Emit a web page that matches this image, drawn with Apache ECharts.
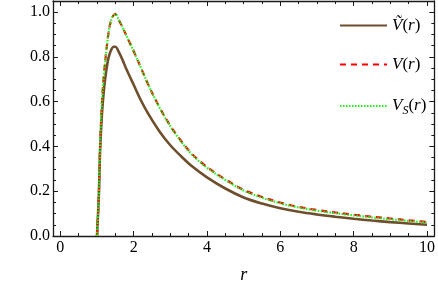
<!DOCTYPE html>
<html>
<head>
<meta charset="utf-8">
<script src="https://cdn.jsdelivr.net/npm/echarts@6/dist/echarts.min.js"></script>
<style>html,body{margin:0;padding:0;background:#fff;}#c{width:438px;height:289px;}</style>
</head>
<body>
<div id="c"></div>
<script>
// ---- data ----
const rValues = [1.00,1.02,1.05,1.08,1.10,1.13,1.16,1.20,1.25,1.30,1.35,1.40,1.45,1.50,1.60,1.70,1.80,1.90,2.00,2.20,2.40,2.70,3.00,3.30,3.60,4.00,4.50,5.00,5.50,6.00,6.50,7.00,7.50,8.00,8.50,9.00,9.50,10.00];
const vTildeValues = [0,0.07,0.18,0.36,0.44,0.53,0.60,0.67,0.735,0.785,0.815,0.835,0.845,0.845,0.82,0.785,0.745,0.71,0.675,0.605,0.545,0.468,0.405,0.355,0.31,0.262,0.212,0.172,0.145,0.124,0.108,0.096,0.086,0.077,0.069,0.062,0.056,0.050];
const vValues = [0,0.07,0.18,0.38,0.47,0.58,0.66,0.74,0.82,0.89,0.94,0.97,0.985,0.99,0.962,0.93,0.895,0.86,0.825,0.75,0.675,0.576,0.492,0.423,0.365,0.308,0.253,0.206,0.174,0.149,0.130,0.116,0.105,0.095,0.086,0.078,0.070,0.063];
const vSValues = [0,0.07,0.18,0.38,0.47,0.58,0.66,0.74,0.82,0.89,0.94,0.97,0.985,0.99,0.962,0.93,0.895,0.86,0.825,0.75,0.675,0.575,0.49,0.42,0.362,0.305,0.25,0.203,0.171,0.146,0.127,0.113,0.102,0.092,0.083,0.075,0.067,0.060];
const seriesNames = ['Ṽ(r)', 'V(r)', 'V_S(r)'];
const xTickLabels = [0,2,4,6,8,10];
const xMinorTicks = [0,0.5,1,1.5,2,2.5,3,3.5,4,4.5,5,5.5,6,6.5,7,7.5,8,8.5,9,9.5,10];
const yTickLabels = [0,0.2,0.4,0.6,0.8,1.0];
const yMinorTicks = [0,0.05,0.1,0.15,0.2,0.25,0.3,0.35,0.4,0.45,0.5,0.55,0.6,0.65,0.7,0.75,0.8,0.85,0.9,0.95,1.0];

const FONT = '"Liberation Serif", "DejaVu Serif", serif';
const frameColor = '#1a1a1a';
const pair = (ys) => rValues.map((r, i) => [r, ys[i]]);

function xAx(pos, major, withLabel) {
  return {
    type: 'value', min: -0.2, max: 10.2, position: pos,
    axisLine: { show: major, onZero: false, lineStyle: { color: frameColor, width: 1.3 } },
    axisTick: { show: true, inside: true, length: major ? 5 : 3, customValues: major ? xTickLabels : xMinorTicks,
      lineStyle: { color: frameColor, width: 1 } },
    axisLabel: withLabel ? { show: true, customValues: xTickLabels, fontFamily: FONT, fontSize: 16, color: '#000', margin: 4 } : { show: false },
    splitLine: { show: false },
    name: withLabel ? 'r' : '', nameLocation: 'middle', nameGap: 30,
    nameTextStyle: { fontFamily: FONT, fontStyle: 'italic', fontSize: 18, color: '#000' }
  };
}
function yAx(pos, major, withLabel) {
  return {
    type: 'value', min: 0, max: 1.049, position: pos,
    axisLine: { show: major, onZero: false, lineStyle: { color: frameColor, width: 1.3 } },
    axisTick: { show: true, inside: true, length: major ? 5 : 3, customValues: major ? yTickLabels : yMinorTicks,
      lineStyle: { color: frameColor, width: 1 } },
    axisLabel: withLabel ? { show: true, customValues: yTickLabels, fontFamily: FONT, fontSize: 16, color: '#000', margin: 3,
      formatter: v => v.toFixed(1) } : { show: false },
    splitLine: { show: false }
  };
}

const chart = echarts.init(document.getElementById('c'), null, { renderer: 'canvas' });
chart.setOption({
  animation: false,
  backgroundColor: '#fff',
  textStyle: { fontFamily: FONT },
  grid: { left: 53, right: 1, top: 1, bottom: 52, containLabel: false },
  xAxis: [xAx('bottom', true, true), xAx('bottom', false, false), xAx('top', true, false), xAx('top', false, false)],
  yAxis: [yAx('left', true, true), yAx('left', false, false), yAx('right', true, false), yAx('right', false, false)],
  legend: {
    orient: 'vertical', left: 334, top: 12, itemWidth: 47, itemHeight: 14, itemGap: 22,
    data: seriesNames,
    itemStyle: { opacity: 0, borderWidth: 0 },
    formatter: function (name) {
      if (name === seriesNames[0]) return '{i|Ṽ}{n|(}{i|r}{n|)}';
      if (name === seriesNames[1]) return '{i|V}{n|(}{i|r}{n|)}';
      return '{i|V}{s|S}{n|(}{i|r}{n|)}';
    },
    textStyle: {
      color: '#000', fontFamily: FONT,
      rich: {
        i: { fontFamily: FONT, fontStyle: 'italic', fontSize: 17, color: '#000', lineHeight: 20, verticalAlign: 'middle' },
        n: { fontFamily: FONT, fontSize: 17, color: '#000', lineHeight: 20, verticalAlign: 'middle' },
        s: { fontFamily: FONT, fontStyle: 'italic', fontSize: 12, color: '#000', lineHeight: 20, verticalAlign: 'middle', padding: [10, 0, 0, 0] }
      }
    }
  },
  series: [
    { name: seriesNames[0], type: 'line', data: pair(vTildeValues), xAxisIndex: 0, yAxisIndex: 0, showSymbol: false, symbol: 'none', smooth: 0.35,
      lineStyle: { color: '#6f4e2c', width: 2.6 }, itemStyle: { color: '#6f4e2c' } },
    { name: seriesNames[1], type: 'line', data: pair(vValues), xAxisIndex: 0, yAxisIndex: 0, showSymbol: false, symbol: 'none', smooth: 0.35,
      lineStyle: { color: '#ff0000', width: 2.2, type: [6, 5] }, itemStyle: { color: '#ff0000' } },
    { name: seriesNames[2], type: 'line', data: pair(vSValues), xAxisIndex: 0, yAxisIndex: 0, showSymbol: false, symbol: 'none', smooth: 0.35,
      lineStyle: { color: '#22ee22', width: 2.2, type: [1.5, 1.5] }, itemStyle: { color: '#22ee22' } }
  ]
});
</script>
</body>
</html>
